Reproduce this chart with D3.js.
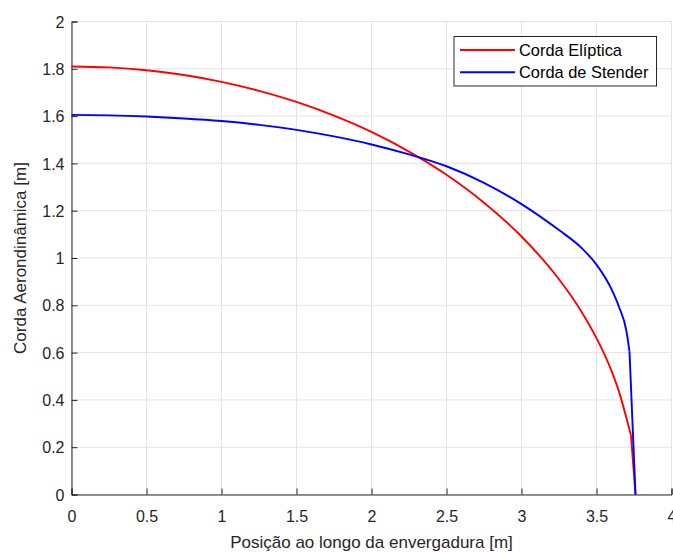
<!DOCTYPE html>
<html>
<head>
<meta charset="utf-8">
<script src="https://cdn.jsdelivr.net/npm/d3@7"></script>
<style>
  body { margin: 0; background: #fff; }
  svg { font-family: "Liberation Sans", Arial, sans-serif; }
</style>
</head>
<body>
<svg id="chart" width="673" height="553"></svg>
<script>
// dados
const posicao = [0, 0.25, 0.5, 0.75, 1, 1.25, 1.5, 1.75, 2, 2.25, 2.5, 2.75, 3, 3.25, 3.4, 3.5, 3.6, 3.65, 3.7, 3.73, 3.76];
const cordaEliptica = [1.81, 1.806, 1.794, 1.774, 1.745, 1.707, 1.66, 1.602, 1.533, 1.45, 1.352, 1.234, 1.091, 0.91, 0.773, 0.661, 0.523, 0.435, 0.322, 0.25, 0];

const posicaoStender = [0, 0.25, 0.5, 0.75, 1, 1.25, 1.5, 1.75, 2, 2.25, 2.5, 2.75, 3, 3.25, 3.4, 3.5, 3.6, 3.65, 3.7, 3.72, 3.76];
const cordaStender = [1.605, 1.603, 1.598, 1.59, 1.579, 1.563, 1.542, 1.514, 1.48, 1.438, 1.388, 1.318, 1.228, 1.118, 1.043, 0.972, 0.868, 0.793, 0.69, 0.604, 0];

const xTicks = [0, 0.5, 1, 1.5, 2, 2.5, 3, 3.5, 4];
const yTicks = [0, 0.2, 0.4, 0.6, 0.8, 1, 1.2, 1.4, 1.6, 1.8, 2];
const legenda = ["Corda Elíptica", "Corda de Stender"];
const cores = ["#ff0000", "#0000ff"];

let svg = d3.select("#chart");
let esq = 71.5, dir = 671.5, topo = 21.5, base = 494.5;

let x = d3.scaleLinear().domain([0, 4]).range([esq, dir]);
let y = d3.scaleLinear().domain([0, 2]).range([base, topo]);

// grade
svg.append("g").selectAll("line").data(xTicks).enter().append("line")
  .attr("x1", d => x(d)).attr("x2", d => x(d))
  .attr("y1", topo).attr("y2", base)
  .attr("stroke", "#e3e3e3").attr("stroke-width", 1);
svg.append("g").selectAll("line").data(yTicks).enter().append("line")
  .attr("x1", esq).attr("x2", dir)
  .attr("y1", d => y(d)).attr("y2", d => y(d))
  .attr("stroke", "#e3e3e3").attr("stroke-width", 1);

// eixos
let eixoX = svg.append("g").attr("transform", `translate(0,${base})`)
  .call(d3.axisBottom(x).tickValues(xTicks).tickSize(-6).tickPadding(16).tickFormat(d3.format("")));
let eixoY = svg.append("g").attr("transform", `translate(${esq},0)`)
  .call(d3.axisLeft(y).tickValues(yTicks).tickSize(-6).tickPadding(7).tickFormat(d3.format("")));

[eixoX, eixoY].forEach(g => {
  g.select(".domain").attr("stroke", "#262626").attr("stroke-width", 1);
  g.selectAll(".tick line").attr("stroke", "#262626");
  g.selectAll(".tick text").attr("fill", "#262626").attr("font-size", 16)
    .attr("font-family", "Liberation Sans, Arial, sans-serif");
});
eixoY.selectAll(".tick text").attr("dy", "0.35em");

// linhas: trecho suave e último segmento reto até a ponta
let suave = d3.line().x(d => x(d[0])).y(d => y(d[1])).curve(d3.curveMonotoneX);
let reta = d3.line().x(d => x(d[0])).y(d => y(d[1]));
function desenha(xs, ys, cor) {
  let pts = xs.map((p, i) => [p, ys[i]]);
  svg.append("path").datum(pts.slice(0, -1))
    .attr("d", suave).attr("fill", "none").attr("stroke", cor).attr("stroke-width", 1.9);
  svg.append("path").datum(pts.slice(-2))
    .attr("d", reta).attr("fill", "none").attr("stroke", cor).attr("stroke-width", 1.9);
}
desenha(posicao, cordaEliptica, cores[0]);
desenha(posicaoStender, cordaStender, cores[1]);

// rótulos
svg.append("text").text("Posição ao longo da envergadura [m]")
  .attr("x", (esq + dir) / 2).attr("y", 548).attr("text-anchor", "middle")
  .attr("font-size", 17).attr("fill", "#262626");
svg.append("text").text("Corda Aerondinâmica [m]")
  .attr("transform", `translate(26,${(topo + base) / 2}) rotate(-90)`)
  .attr("text-anchor", "middle").attr("font-size", 17).attr("fill", "#262626");

// legenda
let leg = svg.append("g");
leg.append("rect").attr("x", 454).attr("y", 36.5).attr("width", 202.5).attr("height", 49.5)
  .attr("fill", "#fff").attr("stroke", "#262626").attr("stroke-width", 1);
leg.selectAll("line").data(legenda).enter().append("line")
  .attr("x1", 460).attr("x2", 515)
  .attr("y1", (d, i) => 50 + i * 22.3).attr("y2", (d, i) => 50 + i * 22.3)
  .attr("stroke", (d, i) => cores[i]).attr("stroke-width", 1.9);
leg.selectAll("text").data(legenda).enter().append("text")
  .text(d => d).attr("x", 519).attr("y", (d, i) => 50 + i * 22.3).attr("dy", "0.35em")
  .attr("font-size", 16.4).attr("fill", "#000");
</script>
</body>
</html>
